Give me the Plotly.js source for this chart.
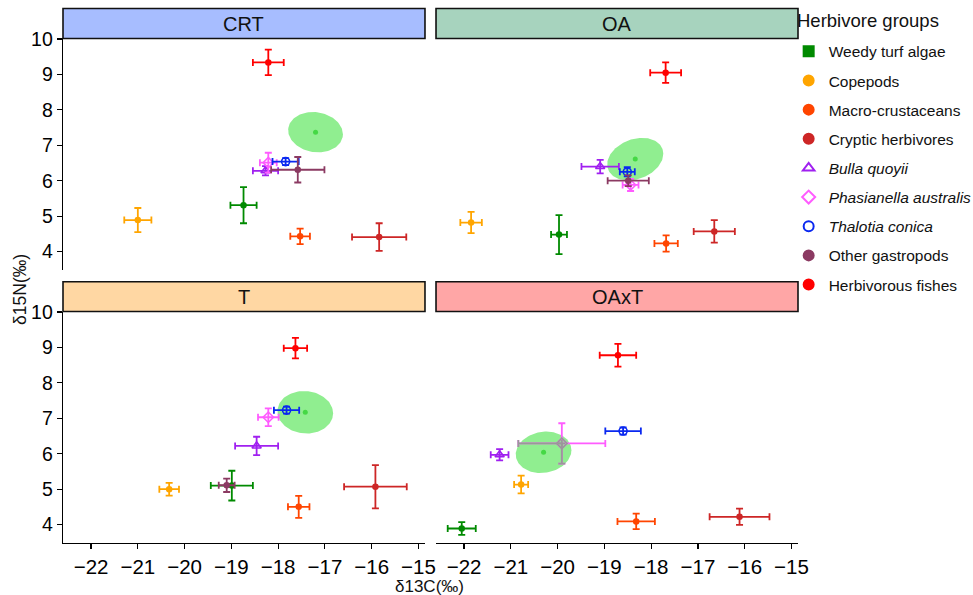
<!DOCTYPE html>
<html>
<head>
<meta charset="utf-8">
<script src="https://cdn.plot.ly/plotly-3.0.1.min.js"></script>
<style>html,body{margin:0;padding:0;background:#fff;}</style>
</head>
<body>
<div id="chart" style="width:973px;height:595px;"></div>
<script>
// Herbivore groups, in legend order
const groupNames = ['Weedy turf algae', 'Copepods', 'Macro-crustaceans', 'Cryptic herbivores',
  '<i>Bulla quoyii</i>', '<i>Phasianella australis</i>', '<i>Thalotia conica</i>',
  'Other gastropods', 'Herbivorous fishes'];
const groupColors = ['#008a00', '#FFA500', '#FF4500', '#CD2626', '#A020F0', '#FF5CFF', '#0A28F0', '#8B3A62', '#FF0000'];
const pointSymbols = ['circle', 'circle', 'circle', 'circle', 'triangle-up-open', 'diamond-open', 'circle-open', 'circle', 'circle'];
const legendSymbols = ['square', 'circle', 'circle', 'circle', 'triangle-up-open', 'diamond-open', 'circle-open', 'circle', 'circle'];

// Treatments (facets)
const panelNames = ['CRT', 'OA', 'T', 'OAxT'];
const stripColors = ['#A7BDFF', '#A7D3BE', '#FFD7A3', '#FFA6A6'];

// Mean and SD of d13C / d15N for each group, per treatment (null = not sampled)
const crtC13   = [-18.74, -21.00, -17.53, -15.84, -18.27, -18.21, -17.84, -17.58, -18.21];
const crtC13sd = [0.28, 0.29, 0.21, 0.58, 0.27, 0.18, 0.28, 0.57, 0.33];
const crtN15   = [5.31, 4.89, 4.43, 4.41, 6.28, 6.51, 6.54, 6.31, 9.34];
const crtN15sd = [0.51, 0.34, 0.22, 0.39, 0.13, 0.28, 0.10, 0.36, 0.36];

const oaC13   = [-19.97, -21.85, -17.68, -16.65, -19.09, -18.44, -18.51, -18.49, -17.69];
const oaC13sd = [0.17, 0.23, 0.25, 0.44, 0.40, 0.17, 0.16, 0.44, 0.33];
const oaN15   = [4.48, 4.82, 4.23, 4.57, 6.40, 5.88, 6.25, 6.00, 9.05];
const oaN15sd = [0.55, 0.30, 0.23, 0.32, 0.19, 0.17, 0.13, 0.15, 0.29];

const tC13   = [-18.99, -20.33, -17.56, -15.92, -18.46, -18.21, -17.82, -19.10, -17.63];
const tC13sd = [0.45, 0.21, 0.23, 0.67, 0.46, 0.22, 0.27, 0.17, 0.25];
const tN15   = [5.10, 5.00, 4.50, 5.07, 6.22, 7.03, 7.23, 5.11, 8.98];
const tN15sd = [0.42, 0.18, 0.31, 0.61, 0.26, 0.25, 0.10, 0.19, 0.29];

const oaxtC13   = [-22.05, -20.78, -18.32, -16.11, -21.24, -19.91, -18.60, null, -18.71];
const oaxtC13sd = [0.30, 0.15, 0.40, 0.64, 0.19, 0.93, 0.38, null, 0.39];
const oaxtN15   = [3.89, 5.13, 4.09, 4.22, 5.97, 6.29, 6.64, null, 8.78];
const oaxtN15sd = [0.18, 0.25, 0.22, 0.23, 0.16, 0.57, 0.10, null, 0.32];

// Niche ellipse per treatment: centre, x/y half-extent and correlation
const nicheC13 = [-17.20, -18.34, -17.42, -20.30];
const nicheN15 = [7.37, 6.61, 7.17, 6.04];
const nicheSx  = [0.585, 0.60, 0.595, 0.595];
const nicheSy  = [0.57, 0.60, 0.60, 0.585];
const nicheRho = [-0.10, 0.25, -0.05, 0.10];

const panelC13 = [crtC13, oaC13, tC13, oaxtC13];
const panelC13sd = [crtC13sd, oaC13sd, tC13sd, oaxtC13sd];
const panelN15 = [crtN15, oaN15, tN15, oaxtN15];
const panelN15sd = [crtN15sd, oaN15sd, tN15sd, oaxtN15sd];

const axSuffix = ['', '2', '3', '4'];
const traces = [];

// niche ellipses (drawn underneath the group means)
panelNames.forEach((p, k) => {
  const ex = [], ey = [];
  const r = nicheRho[k], q = Math.sqrt(1 - r * r);
  for (let i = 0; i <= 120; i++) {
    const t = 2 * Math.PI * i / 120;
    ex.push(nicheC13[k] + nicheSx[k] * Math.cos(t));
    ey.push(nicheN15[k] + nicheSy[k] * (r * Math.cos(t) + q * Math.sin(t)));
  }
  traces.push({
    x: ex, y: ey, type: 'scatter', mode: 'lines', fill: 'toself',
    fillcolor: '#90EE90', line: {width: 0, color: '#90EE90'},
    xaxis: 'x' + axSuffix[k], yaxis: 'y' + axSuffix[k],
    showlegend: false, hoverinfo: 'skip'
  });
  traces.push({
    x: [nicheC13[k]], y: [nicheN15[k]], type: 'scatter', mode: 'markers',
    marker: {color: '#45D845', size: 5},
    xaxis: 'x' + axSuffix[k], yaxis: 'y' + axSuffix[k],
    showlegend: false, hoverinfo: 'skip'
  });
});

// group means with SD error bars
panelNames.forEach((p, k) => {
  groupNames.forEach((g, i) => {
    const cx = panelC13[k][i];
    if (cx === null) return;
    const col = groupColors[i];
    const open = pointSymbols[i].indexOf('open') >= 0;
    traces.push({
      x: [cx], y: [panelN15[k][i]], type: 'scatter', mode: 'markers',
      name: g, legendgroup: 'g' + i, showlegend: false,
      xaxis: 'x' + axSuffix[k], yaxis: 'y' + axSuffix[k],
      marker: {symbol: pointSymbols[i], color: col, size: open ? 8 : 6.5,
               line: {color: col, width: open ? 1.6 : 0}},
      error_x: {type: 'data', array: [panelC13sd[k][i]], color: col, thickness: 1.8, width: 3.5},
      error_y: {type: 'data', array: [panelN15sd[k][i]], color: col, thickness: 1.8, width: 3.5}
    });
  });
});

// OAxT Phasianella: lower / left spread drawn in grey
traces.push({
  x: [oaxtC13[5]], y: [oaxtN15[5]], type: 'scatter', mode: 'markers',
  xaxis: 'x4', yaxis: 'y4', showlegend: false, legendgroup: 'g5', hoverinfo: 'skip',
  marker: {symbol: 'diamond-open', color: '#999999', size: 8, line: {color: '#999999', width: 1.6}},
  error_x: {type: 'data', symmetric: false, array: [0], arrayminus: [oaxtC13sd[5]], color: '#999999', thickness: 1.8, width: 3.5},
  error_y: {type: 'data', symmetric: false, array: [0], arrayminus: [oaxtN15sd[5]], color: '#999999', thickness: 1.8, width: 3.5}
});

// legend keys
groupNames.forEach((g, i) => {
  traces.push({
    x: [null], y: [null], type: 'scatter', mode: 'markers', name: g,
    legendgroup: 'g' + i, showlegend: true, xaxis: 'x', yaxis: 'y',
    marker: {symbol: legendSymbols[i], color: groupColors[i], size: 10,
             line: {color: groupColors[i], width: 2}}
  });
});

const font = 'Liberation Sans, Arial, Helvetica, sans-serif';
const xRange = [-22.6, -14.86];
const yRange = [3.48, 10.015];
const colDom = [[0, 0.4925], [0.5075, 1]];
const rowDom = [[0.5103, 0.943], [0, 0.4327]];
const stripDom = [[0.943, 0.999], [0.4327, 0.4884]];

function xAx(k, show) {
  return {
    domain: colDom[k % 2], anchor: 'y' + axSuffix[k], range: xRange,
    showgrid: false, zeroline: false, showline: show, linecolor: '#000', linewidth: 1.3,
    ticks: show ? 'outside' : '', ticklen: 5, tickwidth: 1.2, tickcolor: '#000',
    showticklabels: show, dtick: 1, tick0: -22,
    tickfont: {family: font, size: 20.5, color: '#000'}
  };
}
function yAx(k, show) {
  return {
    domain: rowDom[Math.floor(k / 2)], anchor: 'x' + axSuffix[k], range: yRange,
    showgrid: false, zeroline: false, showline: show, linecolor: '#000', linewidth: 1.3,
    ticks: show ? 'outside' : '', ticklen: 5, tickwidth: 1.2, tickcolor: '#000',
    showticklabels: show, dtick: 1, tick0: 4,
    tickfont: {family: font, size: 19.5, color: '#000'}
  };
}

const shapes = [], annotations = [];
panelNames.forEach((p, k) => {
  const cd = colDom[k % 2], sd = stripDom[Math.floor(k / 2)];
  shapes.push({type: 'rect', xref: 'paper', yref: 'paper', x0: cd[0], x1: cd[1], y0: sd[0], y1: sd[1],
               fillcolor: stripColors[k], line: {color: '#111', width: 1.6}, layer: 'above'});
  annotations.push({xref: 'paper', yref: 'paper', x: (cd[0] + cd[1]) / 2, y: (sd[0] + sd[1]) / 2,
                    text: p, showarrow: false, xanchor: 'center', yanchor: 'middle',
                    font: {family: font, size: 20, color: '#111'}});
});
annotations.push({xref: 'paper', yref: 'paper', x: 0.4993, y: -0.082, text: 'δ13C(‰)', showarrow: false,
                  xanchor: 'center', yanchor: 'middle', font: {family: font, size: 17, color: '#111'}});
annotations.push({xref: 'paper', yref: 'paper', x: -0.0585, y: 0.473, text: 'δ15N(‰)', showarrow: false,
                  textangle: -90, xanchor: 'center', yanchor: 'middle', font: {family: font, size: 17.5, color: '#111'}});
// legend heading
annotations.push({xref: 'paper', yref: 'paper', x: 0.9955, y: 0.9775, text: 'Herbivore groups', showarrow: false,
                  xanchor: 'left', yanchor: 'middle', font: {family: font, size: 18.5, color: '#111'}});

const layout = {
  width: 973, height: 595,
  margin: {l: 63, r: 175, t: 8, b: 52, autoexpand: false},
  paper_bgcolor: '#fff', plot_bgcolor: '#fff',
  font: {family: font, color: '#111'},
  xaxis: xAx(0, false), yaxis: yAx(0, true),
  xaxis2: xAx(1, false), yaxis2: yAx(1, false),
  xaxis3: xAx(2, true), yaxis3: yAx(2, true),
  xaxis4: xAx(3, true), yaxis4: yAx(3, false),
  shapes: shapes, annotations: annotations,
  showlegend: true,
  legend: {
    x: 0.9873, xanchor: 'left', y: 0.95, yanchor: 'top',
    traceorder: 'grouped', tracegroupgap: 6,
    font: {family: font, size: 15.5, color: '#111'},
    bgcolor: 'rgba(0,0,0,0)', borderwidth: 0
  }
};

Plotly.newPlot('chart', traces, layout, {displayModeBar: false, staticPlot: true});
</script>
</body>
</html>
